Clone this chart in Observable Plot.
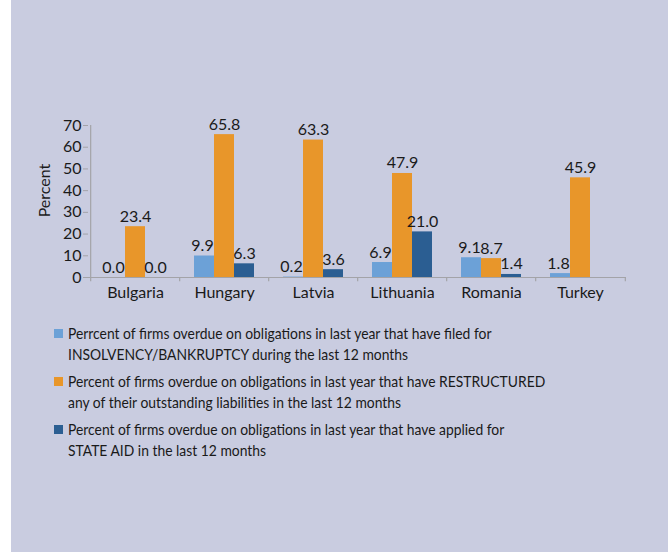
<!DOCTYPE html>
<html>
<head>
<meta charset="utf-8">
<script src="https://cdn.jsdelivr.net/npm/d3@7"></script>
<script src="https://cdn.jsdelivr.net/npm/@observablehq/plot@0.6"></script>
<style>
  html, body { margin: 0; padding: 0; }
  body {
    width: 668px; height: 552px; overflow: hidden; position: relative;
    background: linear-gradient(to right, #ffffff 0px, #ffffff 11px, #c9cce0 11px, #c9cce0 100%);
    font-family: Lato, "Open Sans", sans-serif; color: #1a1a1a;
  }
  #chart { position: absolute; left: 0; top: 0; }
  #legend { position: absolute; left: 54px; top: 323px; font-size: 15px; line-height: 20.5px; }
  .item { display: flex; align-items: flex-start; margin-bottom: 7px; }
  .sw { width: 9px; height: 9px; margin-top: 6px; margin-right: 5px; flex: none; }
  .txt { transform: scaleX(0.925); transform-origin: left center; white-space: nowrap; }
  g[aria-label="values"] text { letter-spacing: -0.4px; }
</style>
</head>
<body>
<div id="chart"></div>
<div id="legend"></div>
<script>
const countries = ["Bulgaria", "Hungary", "Latvia", "Lithuania", "Romania", "Turkey"];
const insolvency = [0.0, 9.9, 0.2, 6.9, 9.1, 1.8];
const restructured = [23.4, 65.8, 63.3, 47.9, 8.7, 45.9];
const stateAid = [0.0, 6.3, 3.6, 21.0, 1.4, null];
const yTicks = [0, 10, 20, 30, 40, 50, 60, 70];
const seriesNames = [
  ["Perrcent of firms overdue on obligations in last year that have filed for", "INSOLVENCY/BANKRUPTCY during the last 12 months"],
  ["Percent of firms overdue on obligations in last year that have RESTRUCTURED", "any of their outstanding liabilities in the last 12 months"],
  ["Percent of firms overdue on obligations in last year that have applied for", "STATE AID in the last 12 months"]
];
const colors = ["#6ca1d7", "#e8962a", "#2b5e92"];
const seriesValues = [insolvency, restructured, stateAid];

const idx = d3.range(countries.length);
const halfStep = 44.83;
const barW = 20;
const gray = "#a3a3a8";

const marks = [];
seriesValues.forEach((vals, s) => {
  const rows = idx.filter(i => vals[i] != null);
  marks.push(Plot.barY(rows, {
    x: i => countries[i], y: i => vals[i], fill: colors[s],
    insetLeft: s * barW, insetRight: (2 - s) * barW
  }));
});
marks.push(Plot.ruleY([0], {stroke: gray, strokeWidth: 1.2}));
marks.push(Plot.ruleX([countries[0]], {dx: -halfStep, y1: 0, y2: 70, stroke: gray, strokeWidth: 1.2}));
marks.push(Plot.ruleX(countries, {x: d => d, dx: -halfStep, y1: 0, y2: -2, stroke: gray, strokeWidth: 1.2}));
marks.push(Plot.ruleX([countries[countries.length - 1]], {dx: halfStep, y1: 0, y2: -2, stroke: gray, strokeWidth: 1.2}));
seriesValues.forEach((vals, s) => {
  const rows = idx.filter(i => vals[i] != null);
  marks.push(Plot.text(rows, {
    x: i => countries[i], y: i => vals[i], text: i => vals[i].toFixed(1),
    dx: (s - 1) * barW - (s === 0 ? 2 : 0), dy: -5, lineAnchor: "bottom",
    fontSize: 16, fill: "#1a1a1a", ariaLabel: "values"
  }));
});
marks.push(Plot.axisX({tickSize: 0, tickPadding: 9, fontSize: 16, label: null, color: "#1a1a1a"}));
marks.push(Plot.axisY({ticks: yTicks, tickSize: 5, tickPadding: 2, fontSize: 16, stroke: gray, color: "#1a1a1a", label: null}));
marks.push(Plot.text(["Percent"], {frameAnchor: "left", textAnchor: "middle", dx: -44, dy: -11, rotate: -90, fontSize: 16, fill: "#1a1a1a"}));

const plot = Plot.plot({
  width: 668,
  height: 305,
  marginTop: 125,
  marginBottom: 28,
  marginLeft: 88,
  marginRight: 42,
  style: {background: "transparent", fontFamily: "Lato, 'Open Sans', sans-serif", color: "#1a1a1a"},
  x: {type: "band", domain: countries, paddingInner: 0.33, paddingOuter: 0.165},
  y: {domain: [0, 70]},
  marks
});
document.getElementById("chart").appendChild(plot);

const legend = document.getElementById("legend");
seriesNames.forEach((lines, s) => {
  const item = document.createElement("div");
  item.className = "item";
  const sw = document.createElement("div");
  sw.className = "sw";
  sw.style.background = colors[s];
  const txt = document.createElement("div");
  txt.className = "txt";
  txt.innerHTML = lines.join("<br>");
  item.appendChild(sw);
  item.appendChild(txt);
  legend.appendChild(item);
});
</script>
</body>
</html>
